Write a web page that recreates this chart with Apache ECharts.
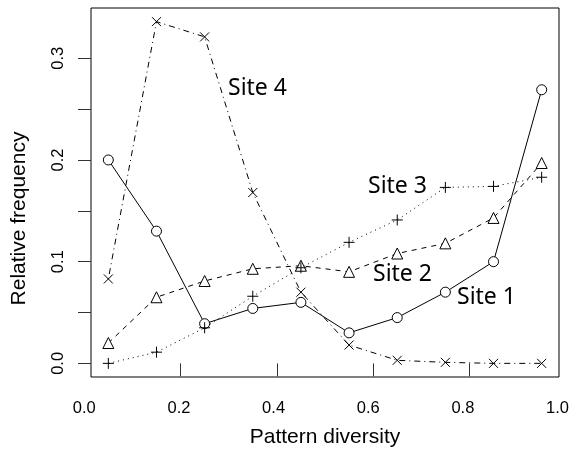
<!DOCTYPE html>
<html>
<head>
<meta charset="UTF-8">
<title>Pattern diversity</title>
<script src="https://cdn.jsdelivr.net/npm/echarts@6.0.0/dist/echarts.min.js"></script>
<style>
  html, body { margin: 0; padding: 0; background: #fff; }
  #main { width: 572px; height: 453px; }
</style>
</head>
<body>
<div id="main"></div>
<script>
// data
var diversity = [0.05, 0.15, 0.25, 0.35, 0.45, 0.55, 0.65, 0.75, 0.85, 0.95];
var site1 = [0.200, 0.130, 0.039, 0.054, 0.060, 0.030, 0.045, 0.070, 0.100, 0.269];
var site2 = [0.020, 0.065, 0.081, 0.093, 0.096, 0.090, 0.108, 0.118, 0.143, 0.197];
var site3 = [0.000, 0.011, 0.035, 0.066, 0.094, 0.119, 0.141, 0.173, 0.174, 0.183];
var site4 = [0.083, 0.336, 0.321, 0.168, 0.070, 0.018, 0.003, 0.001, 0.000, 0.000];
var xTickLabels = [0, 0.2, 0.4, 0.6, 0.8, 1.0];
var xTicks = [0.2, 0.4, 0.6, 0.8];
var yTicks = [0, 0.05, 0.1, 0.15, 0.2, 0.25, 0.3];
var yTickLabels = [0, 0.1, 0.2, 0.3];

function pairs(ys) {
  return diversity.map(function (x, i) { return [x, ys[i]]; });
}

var FONT = "'Liberation Sans', Arial, sans-serif";
var plus = 'path://M0,5L10,5M5,0L5,10';
var cross = 'path://M0,0L10,10M10,0L0,10';

function lineSeries(data, symbol, size, dash) {
  return {
    type: 'line',
    xAxisIndex: 0,
    yAxisIndex: 0,
    data: pairs(data),
    symbol: symbol,
    symbolSize: size,
    lineStyle: { color: '#000', width: 1, type: dash },
    itemStyle: {
      color: (symbol === plus || symbol === cross) ? 'none' : '#fff',
      borderColor: '#000',
      borderWidth: 1
    },
    emphasis: { disabled: true }
  };
}

var myChart = echarts.init(document.getElementById('main'));
myChart.setOption({
  animation: false,
  grid: [
    { left: 91, right: 13, top: 8, bottom: 75, show: true, borderColor: '#000', borderWidth: 1, backgroundColor: 'transparent' },
    { left: 84.3, right: 6.3, top: 8, bottom: 75 }
  ],
  xAxis: [{
    gridIndex: 0,
    type: 'value',
    min: 0.014,
    max: 0.986,
    name: 'Pattern diversity',
    nameLocation: 'middle',
    nameGap: 50,
    nameTextStyle: { fontFamily: FONT, fontSize: 21, color: '#000' },
    axisLine: { show: false },
    axisTick: { show: true, length: 13, customValues: xTicks, lineStyle: { color: '#333' } },
    axisLabel: { show: false },
    splitLine: { show: false }
  }, {
    gridIndex: 1,
    type: 'value',
    min: 0,
    max: 1,
    interval: 0.2,
    axisLine: { show: false },
    axisTick: { show: false },
    axisLabel: {
      customValues: xTickLabels,
      margin: 22,
      fontFamily: FONT,
      fontSize: 16.5,
      color: '#000',
      formatter: function (v) { return v.toFixed(1); }
    },
    splitLine: { show: false }
  }],
  yAxis: [{
    gridIndex: 0,
    type: 'value',
    min: -0.0134,
    max: 0.3494,
    name: 'Relative frequency',
    nameLocation: 'middle',
    nameGap: 61,
    nameTextStyle: { fontFamily: FONT, fontSize: 21, color: '#000', padding: [0, 52, 0, 0] },
    axisLine: { show: false },
    axisTick: { show: true, length: 13, customValues: yTicks, lineStyle: { color: '#333' } },
    axisLabel: {
      customValues: yTickLabels,
      rotate: 90,
      margin: 24,
      fontFamily: FONT,
      fontSize: 16.5,
      color: '#000',
      formatter: function (v) { return v.toFixed(1); }
    },
    splitLine: { show: false }
  }, {
    gridIndex: 1,
    type: 'value',
    show: false,
    min: 0,
    max: 1
  }],
  graphic: [
    { type: 'text', x: 228, y: 88, style: { text: 'Site 4', font: "23px 'Noto Sans', sans-serif", fill: '#000', verticalAlign: 'middle' } },
    { type: 'text', x: 368, y: 186, style: { text: 'Site 3', font: "23px 'Noto Sans', sans-serif", fill: '#000', verticalAlign: 'middle' } },
    { type: 'text', x: 373, y: 274, style: { text: 'Site 2', font: "23px 'Noto Sans', sans-serif", fill: '#000', verticalAlign: 'middle' } },
    { type: 'text', x: 457, y: 297, style: { text: 'Site 1', font: "23px 'Noto Sans', sans-serif", fill: '#000', verticalAlign: 'middle' } }
  ],
  series: [
    lineSeries(site1, 'circle', 10, 'solid'),
    lineSeries(site2, 'triangle', 11, [5, 5]),
    lineSeries(site3, plus, 11, [1, 4]),
    lineSeries(site4, cross, 9, [1, 4, 6, 4])
  ]
});
</script>
</body>
</html>
